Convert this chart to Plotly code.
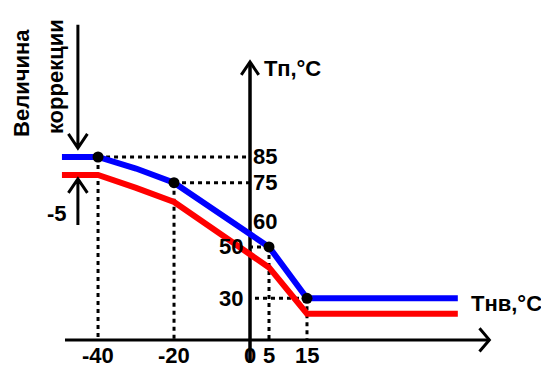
import plotly.graph_objects as go

# heating curve schematic: supply temp vs outdoor temp
CURVE_X = [-49.5, -40, -30, -20, 5, 15, 54.7]
BLUE_Y = [85, 85, 80.5, 75, 50, 30, 30]
RED_Y = [78, 78, 73, 67.5, 42, 24, 24]

POINT_X = [-40, -20, 5, 15]
POINT_Y = [85, 75, 50, 30]

X_TICKS = [-40, -20, 0, 5, 15]
Y_RIGHT = [85, 75, 60]   # labels right of the axis
Y_LEFT = [50, 30]        # labels left of the axis

X_AXIS_Y = 13.8
Y_AXIS_TOP = 122
X_AXIS_END = 63
FONT = "Liberation Sans"
FS = 22

fig = go.Figure()

# dotted guides from each point to the axes
gx, gy = [], []
for px_, py_ in zip(POINT_X, POINT_Y):
    gx += [px_, px_, None, px_, 0, None]
    gy += [py_, X_AXIS_Y, None, py_, py_, None]
fig.add_trace(go.Scatter(x=gx, y=gy, mode="lines",
                         line=dict(color="black", width=3, dash="4px,4px"),
                         hoverinfo="skip"))

# axes
fig.add_trace(go.Scatter(x=[-48.7, X_AXIS_END], y=[X_AXIS_Y, X_AXIS_Y], mode="lines",
                         line=dict(color="black", width=3), hoverinfo="skip"))
fig.add_trace(go.Scatter(x=[0, 0], y=[4.8, Y_AXIS_TOP], mode="lines",
                         line=dict(color="black", width=3.5), hoverinfo="skip"))

fig.add_trace(go.Scatter(x=CURVE_X, y=RED_Y, mode="lines",
                         line=dict(color="#ff0000", width=6)))
fig.add_trace(go.Scatter(x=CURVE_X, y=BLUE_Y, mode="lines",
                         line=dict(color="#0000ff", width=6)))
fig.add_trace(go.Scatter(x=POINT_X, y=POINT_Y, mode="markers",
                         marker=dict(color="black", size=11)))

# arrowheads and correction arrows
arrows = [
    f"M {X_AXIS_END - 2.6},{X_AXIS_Y + 4.5} L {X_AXIS_END},{X_AXIS_Y} L {X_AXIS_END - 2.6},{X_AXIS_Y - 4.5}",
    f"M -2.3,{Y_AXIS_TOP - 5} L 0,{Y_AXIS_TOP} L 2.3,{Y_AXIS_TOP - 5}",
    "M -45.3,136.5 L -45.3,88.5 M -47.8,94 L -45.3,88.5 L -42.8,94",
    "M -45.3,58.5 L -45.3,76.5 M -47.8,71 L -45.3,76.5 L -42.8,71",
]
for p in arrows:
    fig.add_shape(type="path", path=p, xref="x", yref="y",
                  line=dict(color="black", width=3))

txt = dict(family=FONT, size=FS, color="black", weight="bold")
for t in X_TICKS:
    fig.add_annotation(x=t, y=7.9, text=str(t), showarrow=False, font=txt,
                       xanchor="center", yanchor="middle")
for v in Y_RIGHT:
    fig.add_annotation(x=0.3, y=v, text=str(v), showarrow=False, font=txt,
                       xanchor="left", yanchor="middle")
for v in Y_LEFT:
    fig.add_annotation(x=-1.2, y=v, text=str(v), showarrow=False, font=txt,
                       xanchor="right", yanchor="middle")

fig.add_annotation(x=3.2, y=119.6, text="Тп,°С", showarrow=False, font=txt,
                   xanchor="left", yanchor="middle")
fig.add_annotation(x=57.6, y=27.8, text="Тнв,°С", showarrow=False, font=txt,
                   xanchor="left", yanchor="middle")
fig.add_annotation(x=-50.8, y=63.2, text="-5", showarrow=False, font=txt,
                   xanchor="center", yanchor="middle")
fig.add_annotation(x=-60.3, y=113.8, text="Величина", showarrow=False, font=txt,
                   textangle=-90, xanchor="center", yanchor="middle")
fig.add_annotation(x=-51, y=116.2, text="коррекции", showarrow=False, font=txt,
                   textangle=-90, xanchor="center", yanchor="middle")

# page body adds an 8px margin, so the figure is 8px smaller on each side
fig.update_layout(
    width=541, height=359,
    margin=dict(l=0, r=0, t=0, b=0),
    plot_bgcolor="white", paper_bgcolor="white",
    showlegend=False,
    xaxis=dict(range=[-63.7, 78.7], visible=False, fixedrange=True),
    yaxis=dict(range=[3.25, 143.0], visible=False, fixedrange=True),
)

fig.write_html("out.html")
